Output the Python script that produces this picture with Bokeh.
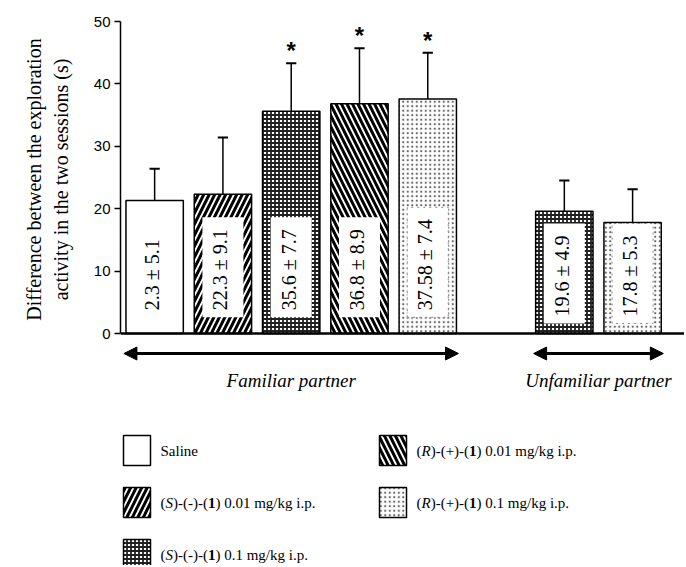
import math
import re
from bokeh.plotting import figure
from bokeh.models import Range1d, FixedTicker, Span, Arrow, NormalHead, ColumnDataSource
from bokeh.layouts import column
from bokeh.core.properties import value
from bokeh.embed import file_html
from bokeh.resources import INLINE

# ---------------- data ----------------
groups = ["Familiar partner", "Unfamiliar partner"]
group_sizes = [5, 2]
treatments = [
    "Saline",
    "(S)-(-)-(1) 0.01 mg/kg i.p.",
    "(S)-(-)-(1) 0.1 mg/kg i.p.",
    "(R)-(+)-(1) 0.01 mg/kg i.p.",
    "(R)-(+)-(1) 0.1 mg/kg i.p.",
]
bar_treatment = [0, 1, 2, 3, 4, 2, 4]
means = [21.3, 22.3, 35.6, 36.8, 37.58, 19.6, 17.8]
sems = [5.1, 9.1, 7.7, 8.9, 7.4, 4.9, 5.3]
bar_labels = ["2.3 ± 5.1", "22.3 ± 9.1", "35.6 ± 7.7", "36.8 ± 8.9",
              "37.58 ± 7.4", "19.6 ± 4.9", "17.8 ± 5.3"]
significant = [False, False, True, True, True, False, False]
y_ticks = [0, 10, 20, 30, 40, 50]
y_title = "Difference between the exploration\nactivity in the two sessions (s)"

# ---------------- styles ----------------
SERIF = "Liberation Serif"
SANS = "Liberation Sans"
patterns = [
    dict(hatch_pattern=" ", hatch_scale=6, hatch_weight=1, hatch_color="black"),
    dict(hatch_pattern="/", hatch_scale=11, hatch_weight=3, hatch_color="black"),
    dict(hatch_pattern="+", hatch_scale=4, hatch_weight=1.8, hatch_color="#202020"),
    dict(hatch_pattern="\\", hatch_scale=11, hatch_weight=3, hatch_color="black"),
    dict(hatch_pattern=".", hatch_scale=4.5, hatch_weight=1.4, hatch_color="#666666"),
]
dotted_box = [False, False, False, False, True]

# positions: consecutive bars, one empty slot between groups
xs, group_of = [], []
pos = 0
for gi, n in enumerate(group_sizes):
    for _ in range(n):
        xs.append(pos)
        group_of.append(gi)
        pos += 1
    pos += 1

BAR_W = 0.84
label_base = [2.6, 1.6]
W = 684
LEFT = 120

# ---------------- main figure ----------------
p = figure(width=W, height=345, x_range=Range1d(-0.5, 7.76), y_range=Range1d(-0.64, 50),
           x_axis_location=None, output_backend="svg", toolbar_location=None,
           min_border_left=LEFT, min_border_right=0, min_border_top=21, min_border_bottom=8)
p.outline_line_color = None
p.xgrid.visible = False
p.ygrid.visible = False

src = ColumnDataSource(dict(
    x=xs, top=means,
    hp=[patterns[t]["hatch_pattern"] for t in bar_treatment],
    hs=[patterns[t]["hatch_scale"] for t in bar_treatment],
    hw=[patterns[t]["hatch_weight"] for t in bar_treatment],
    hc=[patterns[t]["hatch_color"] for t in bar_treatment],
))
p.vbar(x="x", top="top", bottom=0, width=BAR_W, source=src, fill_color="white",
       line_color="black", line_width=1.5, hatch_pattern="hp", hatch_scale="hs",
       hatch_weight="hw", hatch_color="hc")

tops = [m + s for m, s in zip(means, sems)]
p.segment(x0=xs, y0=means, x1=xs, y1=tops, line_color="black", line_width=1.5)
p.segment(x0=[x - 0.075 for x in xs], y0=tops, x1=[x + 0.075 for x in xs], y1=tops,
          line_color="black", line_width=2)

for dotted in (False, True):
    idx = [i for i in range(len(xs)) if dotted_box[bar_treatment[i]] == dotted]
    kw = dict(border_line_color="#888888", border_line_dash="dotted", border_line_width=1) if dotted else {}
    p.text(x=[xs[i] for i in idx], y=[label_base[group_of[i]] for i in idx],
           text=[bar_labels[i] for i in idx], angle=math.pi / 2,
           text_align="left", text_baseline="middle", text_font=value(SERIF),
           text_font_size="20px", text_color="black", background_fill_color="white",
           padding=(7, 12, 7, 12), **kw)

sig = [i for i in range(len(xs)) if significant[i]]
p.text(x=[xs[i] for i in sig], y=[tops[i] + 2.0 for i in sig], text=["*"] * len(sig),
       text_align="center", text_baseline="alphabetic", text_font=value(SANS),
       text_font_style="bold", text_font_size="24px", text_color="black")

p.add_layout(Span(location=0, dimension="width", line_color="black", line_width=2.5))

ax = p.yaxis[0]
ax.ticker = FixedTicker(ticks=y_ticks)
ax.bounds = (0, 50)
ax.axis_line_width = 1.5
ax.major_tick_out = 6
ax.major_tick_in = 0
ax.minor_tick_in = 0
ax.minor_tick_out = 0
ax.major_tick_line_width = 1.5
ax.major_label_standoff = 4
ax.major_label_text_font = SANS
ax.major_label_text_font_size = "15px"
ax.major_label_text_color = "black"
ax.axis_label = y_title
ax.axis_label_text_font = SERIF
ax.axis_label_text_font_size = "20px"
ax.axis_label_text_font_style = "normal"
ax.axis_label_text_color = "black"
ax.axis_label_standoff = 19

# ---------------- group arrows and names ----------------
q = figure(width=W, height=55, x_range=p.x_range, y_range=Range1d(55, 0),
           x_axis_location=None, y_axis_location=None, output_backend="svg",
           toolbar_location=None, min_border_left=LEFT, min_border_right=0,
           min_border_top=0, min_border_bottom=0)
q.outline_line_color = None
q.xgrid.visible = False
q.ygrid.visible = False
centers = []
for gi in range(len(groups)):
    gx = [xs[i] for i in range(len(xs)) if group_of[i] == gi]
    x0, x1 = min(gx) - 0.45, max(gx) + 0.45
    centers.append((min(gx) + max(gx)) / 2)
    q.add_layout(Arrow(start=NormalHead(size=13, fill_color="black", line_color="black"),
                       end=NormalHead(size=13, fill_color="black", line_color="black"),
                       x_start=x0, x_end=x1, y_start=8, y_end=8,
                       line_color="black", line_width=3))
q.text(x=centers, y=[35] * len(groups), text=groups, text_align="center",
       text_baseline="middle", text_font=value(SERIF), text_font_style="italic",
       text_font_size="19px", text_color="black")

# ---------------- legend ----------------
LH = 165
lg = figure(width=W, height=LH, x_range=Range1d(LEFT, W), y_range=Range1d(LH, 0),
            x_axis_location=None, y_axis_location=None, output_backend="svg",
            toolbar_location=None, min_border_left=LEFT, min_border_right=0,
            min_border_top=0, min_border_bottom=0)
lg.outline_line_color = None
lg.xgrid.visible = False
lg.ygrid.visible = False

REG = {' ': 250, '(': 333, ')': 333, '-': 333, '+': 564, '0': 500, '1': 500, '.': 250,
       '/': 278, 'm': 778, 'g': 500, 'k': 500, 'i': 278, 'p': 500, 'S': 556, 'a': 444,
       'l': 278, 'n': 500, 'e': 444}
ITAL = {'S': 500, 'R': 611}
BOLD = {'1': 500}
FS = 15


def width(s, style):
    table = ITAL if style == "italic" else BOLD if style == "bold" else REG
    return sum(table.get(c, REG.get(c, 500)) for c in s) * FS / 1000.0


def segments(name):
    m = re.match(r"^\((S|R)(\)-\([-+]\)-\()(1)(\).*)$", name)
    if not m:
        return [(name, "normal")]
    return [("(", "normal"), (m.group(1), "italic"), (m.group(2), "normal"),
            (m.group(3), "bold"), (m.group(4), "normal")]


col_box_x = [123, 379]
rows_y = [50, 102, 154]
for k, name in enumerate(treatments):
    c, r = (0, k) if k < 3 else (1, k - 3)
    bx, cy = col_box_x[c], rows_y[r]
    st = patterns[k]
    lg.quad(left=[bx], right=[bx + 27], top=[cy - 15], bottom=[cy + 15], fill_color="white",
            line_color="black", line_width=1.5, **st)
    tx = bx + 37
    segs = {"normal": ([], []), "italic": ([], []), "bold": ([], [])}
    for s, style in segments(name):
        segs[style][0].append(tx)
        segs[style][1].append(s)
        tx += width(s, style)
    for style, (sx, st_) in segs.items():
        if not st_:
            continue
        lg.text(x=sx, y=[cy] * len(sx), text=st_, text_align="left", text_baseline="middle",
                text_font=value(SERIF), text_font_size=f"{FS}px", text_color="black",
                text_font_style=style)

layout = column(p, q, lg)
open("out.html", "w").write(file_html(layout, INLINE))
